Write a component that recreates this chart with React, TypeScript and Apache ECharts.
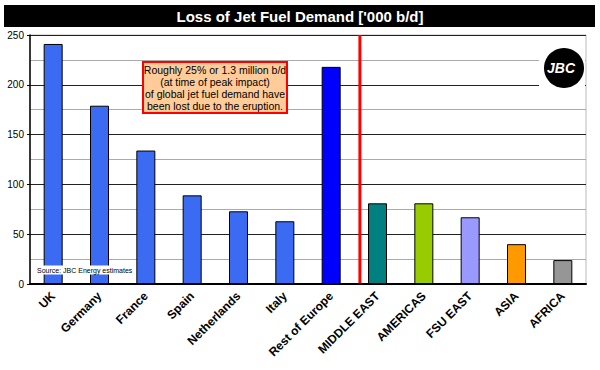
import React, { useEffect, useRef } from "react";
import * as echarts from "echarts";

const categories = ["UK", "Germany", "France", "Spain", "Netherlands", "Italy", "Rest of Europe", "MIDDLE EAST", "AMERICAS", "FSU EAST", "ASIA", "AFRICA"];
const values = [241, 179, 134, 89, 73, 63, 218, 81, 81, 67, 40, 24];
const barColors = ["#3A6BF2", "#3A6BF2", "#3A6BF2", "#3A6BF2", "#3A6BF2", "#3A6BF2", "#0000FF", "#008080", "#99CC00", "#9999FF", "#FF9900", "#969696"];
const dividerAfterIndex = 6;
const dividerFraction = 0.62;
const titleText = "Loss of Jet Fuel Demand ['000 b/d]";
const noteLines = ["Roughly 25% or 1.3 million b/d", "(at time of peak impact)", "of global jet fuel demand have", "been lost due to the eruption."];
const sourceText = "Source: JBC Energy estimates";

export default function App() {
  const ref = useRef<HTMLDivElement>(null);
  useEffect(() => {
    document.body.style.margin = "0";
    const chart = echarts.init(ref.current!, null, { renderer: "svg" });
    const font = "Liberation Sans, Arial, sans-serif";
    const baseGraphic: any[] = [
      { type: "rect", shape: { x: 4, y: 5, width: 591, height: 22 }, style: { fill: "#000" } },
      {
        type: "text", x: 300, y: 16,
        style: { text: titleText, fill: "#fff", font: "bold 15px " + font, textAlign: "center", textVerticalAlign: "middle" },
      },
      {
        type: "rect", shape: { x: 143, y: 62, width: 144, height: 51 },
        style: { fill: "#FFCC99", stroke: "#FF0000", lineWidth: 2 }, z: 10,
      },
      {
        type: "text", x: 215, y: 88, z: 11,
        style: { text: noteLines.join("\n"), fill: "#000", font: "10.5px " + font, textAlign: "center", textVerticalAlign: "middle", lineHeight: 12 },
      },
      {
        type: "text", x: 36, y: 270, z: 11,
        style: { text: sourceText, fill: "#000", font: "7px " + font, textVerticalAlign: "middle", backgroundColor: "#fff", padding: [1, 1] },
      },
      { type: "rect", shape: { x: 539, y: 38, width: 46, height: 62 }, style: { fill: "#fff" }, z: 10 },
      { type: "circle", shape: { cx: 564, cy: 68, r: 20 }, style: { fill: "#000" }, z: 11 },
      {
        type: "text", x: 561, y: 68, z: 12,
        style: { text: "JBC", fill: "#fff", font: "bold italic 14px " + font, textAlign: "center", textVerticalAlign: "middle" },
      },
    ];
    chart.setOption({
      animation: false,
      backgroundColor: "#fff",
      grid: { left: 30, right: 14, top: 35, bottom: 86, show: true, borderColor: "#bbb", borderWidth: 1 },
      xAxis: {
        type: "category",
        data: categories,
        axisLine: { lineStyle: { color: "#000", width: 2 } },
        axisTick: { show: false },
        axisLabel: { rotate: 45, interval: 0, fontFamily: font, fontSize: 12, fontWeight: "bold", color: "#000", margin: 10 },
      },
      yAxis: {
        type: "value",
        min: 0,
        max: 250,
        interval: 50,
        axisLine: { show: true, lineStyle: { color: "#000", width: 1.5 } },
        axisTick: { show: true, length: 3, lineStyle: { color: "#000" } },
        axisLabel: { fontFamily: font, fontSize: 10, color: "#000", margin: 6 },
        splitLine: { lineStyle: { color: "#222", width: 1 } },
        minorTick: { show: false, splitNumber: 2 },
        minorSplitLine: { show: true, lineStyle: { color: "#aaa", width: 1 } },
      },
      series: [
        {
          type: "bar",
          data: values.map((v, i) => ({ value: v, itemStyle: { color: barColors[i] } })),
          barWidth: "41%",
          itemStyle: { borderColor: "#000", borderWidth: 1 },
          z: 3,
        },
      ],
      graphic: baseGraphic,
    });
    const p0 = chart.convertToPixel({ xAxisIndex: 0 }, categories[dividerAfterIndex]) as number;
    const p1 = chart.convertToPixel({ xAxisIndex: 0 }, categories[dividerAfterIndex + 1]) as number;
    const yTop = chart.convertToPixel({ yAxisIndex: 0 }, 250) as number;
    const yBottom = chart.convertToPixel({ yAxisIndex: 0 }, 0) as number;
    const xd = p0 + dividerFraction * (p1 - p0);
    chart.setOption({
      graphic: [
        ...baseGraphic,
        { type: "line", shape: { x1: xd, y1: yTop, x2: xd, y2: yBottom - 1 }, style: { stroke: "#FF0000", lineWidth: 3 }, z: 9 },
      ],
    }, { replaceMerge: ["graphic"] });
    return () => chart.dispose();
  }, []);
  return <div ref={ref} style={{ width: 600, height: 370 }} />;
}
